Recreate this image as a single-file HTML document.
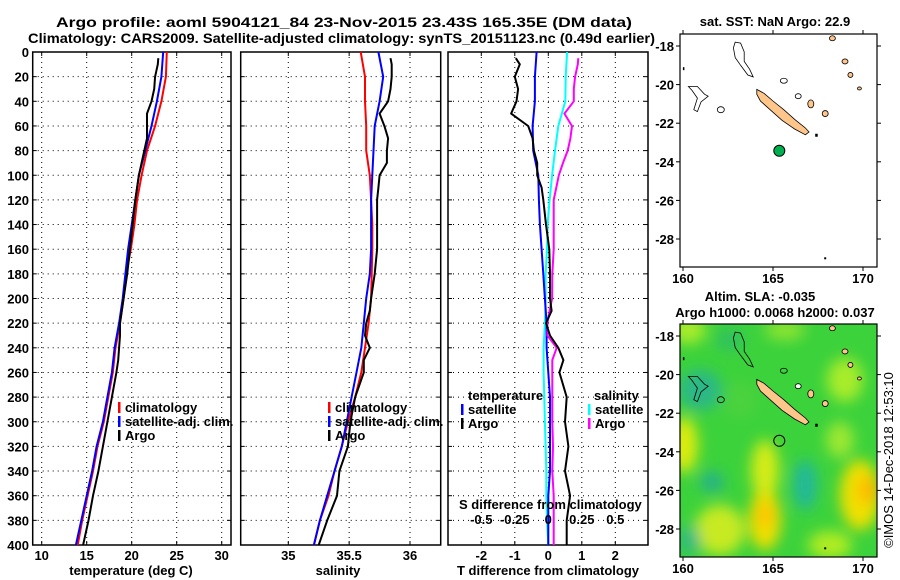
<!DOCTYPE html>
<html><head><meta charset="utf-8"><style>
html,body{margin:0;padding:0;background:#fff;}
svg{display:block;font-family:"Liberation Sans",sans-serif;font-weight:bold;}
</style></head><body>
<svg id="fig" width="900" height="580" viewBox="0 0 900 580">
<defs>
<filter id="blur" x="-50%" y="-50%" width="200%" height="200%"><feGaussianBlur stdDeviation="7"/></filter>
<clipPath id="mapclip"><rect x="680" y="324" width="197" height="233"/></clipPath>
</defs>
<g>
<text x="56" y="27" font-size="14" textLength="576" lengthAdjust="spacingAndGlyphs">Argo profile: aoml 5904121_84 23-Nov-2015 23.43S 165.35E (DM data)</text>
<text x="28" y="43" font-size="14" textLength="627" lengthAdjust="spacingAndGlyphs">Climatology: CARS2009. Satellite-adjusted climatology: synTS_20151123.nc (0.49d earlier)</text>
</g>
<g id="panels"></g>
<g id="maps"></g>
</svg>
<script>
// ---- profile data ----
const depthGrid = [0,20,40,60,80,100,120,140,160,180,200,220,240,260,280,300,320,340,360,380,400];
const depthArgo = [5,10,20,30,40,50,60,70,80,90,100,110,120,140,160,180,200,210,220,230,240,250,260,280,300,320,340,360,380,400];
const tempClim = [23.9,23.8,23.3,22.6,21.7,21.1,20.6,20.3,19.9,19.4,19.1,18.7,18.2,17.9,17.4,16.9,16.2,15.7,15.1,14.5,14.0];
const tempSat = [23.5,23.3,22.8,22.2,21.5,20.8,20.4,20.0,19.6,19.3,19.0,18.6,18.1,17.8,17.3,16.8,16.1,15.6,15.0,14.4,13.8];
const tempArgo = [22.96,22.9,22.6,22.5,22.2,21.7,21.7,21.7,21.4,21.1,20.8,20.6,20.4,20.1,19.8,19.5,19.1,18.9,18.7,18.7,18.6,18.5,18.3,17.8,17.3,16.8,16.3,15.7,15.2,14.6];
const salClim = [35.595,35.63,35.63,35.64,35.64,35.67,35.68,35.69,35.69,35.685,35.68,35.66,35.63,35.60,35.55,35.49,35.44,35.38,35.33,35.26,35.21];
const salSat = [35.74,35.78,35.75,35.71,35.70,35.69,35.68,35.68,35.68,35.67,35.64,35.62,35.60,35.56,35.52,35.48,35.44,35.38,35.32,35.26,35.21];
const salArgo = [35.84,35.85,35.85,35.84,35.82,35.75,35.79,35.82,35.81,35.81,35.75,35.74,35.73,35.73,35.73,35.71,35.68,35.67,35.64,35.63,35.67,35.62,35.62,35.55,35.51,35.49,35.42,35.40,35.32,35.25];
const tDiffSat = [-0.35,-0.4,-0.4,-0.47,-0.45,-0.3,-0.28,-0.25,-0.2,-0.15,-0.1,-0.05,-0.05,0,0.05,0.05,0.05,0.05,0,0,0];
const tDiffArgo = [-0.97,-0.85,-1.0,-0.9,-0.95,-1.11,-0.6,-0.47,-0.43,-0.33,-0.33,-0.2,-0.15,-0.07,0.03,0.05,0.05,0.1,-0.07,0.05,0.3,0.45,0.33,0.55,0.5,0.6,0.5,0.65,0.55,0.55];
const sDiffSat = [0.14,0.13,0.127,0.075,0.05,0.028,0.01,-0.005,-0.01,-0.02,-0.02,-0.025,-0.035,-0.035,-0.03,-0.025,-0.02,-0.015,-0.015,-0.01,0];
const sDiffArgo = [0.224,0.22,0.2,0.19,0.19,0.12,0.177,0.165,0.145,0.11,0.078,0.06,0.04,0.04,0.04,0.03,0.028,0.01,-0.007,-0.007,0.063,0.03,0.03,0.03,0.03,0.035,0.03,0.04,0.04,0.04];
const depthTicks = [0,20,40,60,80,100,120,140,160,180,200,220,240,260,280,300,320,340,360,380,400];
const tempTicks = [10,15,20,25,30];
const salTicks = [35,35.5,36];
const salTickLabels = ["35","35.5","36"];
const tDiffTicks = [-2,-1,0,1,2];
const sDiffTicks = [-0.5,-0.25,0,0.25,0.5];
const sDiffTickLabels = ["-0.5","-0.25","0","0.25","0.5"];
const lonTicks = [160,165,170];
const latTicks = [-18,-20,-22,-24,-26,-28];
const argoLon = 165.35, argoLat = -23.43;

const NS = "http://www.w3.org/2000/svg";
const TOP = 52, BOT = 545;
function yD(d){ return TOP + (BOT-TOP)*d/400; }
function xT(t){ return 41.7 + 9*(t-10); }
function xS(s){ return 288.3 + 121.7*(s-35); }
function xTd(t){ return 548.3 + 33.5*t; }
function xSd(s){ return 548.3 + 134*s; }
function mk(tag, attrs, parent){ const e=document.createElementNS(NS,tag); for(const k in attrs) e.setAttribute(k,attrs[k]); parent.appendChild(e); return e; }
function txt(s, attrs, parent){ const e=mk('text',attrs,parent); e.textContent=s; return e; }
const panels = document.getElementById('panels');

function panel(name, x0, x1, gridXs){
  const g = mk('g',{},panels);
  
  
  gridXs.forEach(x=>{ const l=mk('line',{x1:x,x2:x,y1:TOP,y2:BOT,stroke:'#000','stroke-width':1,'stroke-dasharray':'1,4'},g);
    
    
    mk('line',{x1:x,x2:x,y1:TOP,y2:TOP+4,stroke:'#000'},g); mk('line',{x1:x,x2:x,y1:BOT-4,y2:BOT,stroke:'#000'},g); });
  depthTicks.forEach(d=>{ if(d===0||d===400) return; const l=mk('line',{x1:x0,x2:x1,y1:yD(d),y2:yD(d),stroke:'#000','stroke-width':1,'stroke-dasharray':'1,4'},g);
    
    
    mk('line',{x1:x0,x2:x0+4,y1:yD(d),y2:yD(d),stroke:'#000'},g); mk('line',{x1:x1-4,x2:x1,y1:yD(d),y2:yD(d),stroke:'#000'},g); });
  const r = mk('rect',{x:x0,y:TOP,width:x1-x0,height:BOT-TOP,fill:'none',stroke:'#000','stroke-width':1.5},g);
  
  
  return g;
}
function series(g, name, xs, ds, fx, color){
  const pts = xs.map((v,i)=>fx(v).toFixed(1)+','+yD(ds[i]).toFixed(1)).join(' ');
  const p = mk('polyline',{points:pts,fill:'none',stroke:color,'stroke-width':2,'stroke-linejoin':'round'},g);
  
  
}
function legend(g, name, x, y, color, label){
  const lg = mk('g',{},g);
  
  
  mk('rect',{x:x,y:y-10,width:2.5,height:11,fill:color},lg);
  txt(label,{x:x+7,y:y,'font-size':13},lg);
}

// Panel 1: temperature
const p1 = panel('temperature-panel', 32.7, 231, tempTicks.map(xT));
series(p1,'temperature-climatology-line',tempClim,depthGrid,xT,'#ff0000');
series(p1,'temperature-satellite-line',tempSat,depthGrid,xT,'#0000ff');
series(p1,'temperature-argo-line',tempArgo,depthArgo,xT,'#000000');
depthTicks.forEach(d=>{ const t=txt(String(d),{x:29,y:yD(d)+5,'font-size':13,'text-anchor':'end'},p1);
  
   });
tempTicks.forEach(v=>{ const t=txt(String(v),{x:xT(v),y:560,'font-size':13,'text-anchor':'middle'},p1);
  
   });
const xl1 = txt('temperature (deg C)',{x:131,y:575,'font-size':13,'text-anchor':'middle'},p1);


legend(p1,'legend-climatology',118,412,'#ff0000','climatology');
legend(p1,'legend-satellite-adj',118,426,'#0000ff','satellite-adj. clim.');
legend(p1,'legend-argo',118,440,'#000000','Argo');

// Panel 2: salinity
const p2 = panel('salinity-panel', 240.7, 440.7, salTicks.map(xS));
series(p2,'salinity-climatology-line',salClim,depthGrid,xS,'#ff0000');
series(p2,'salinity-satellite-line',salSat,depthGrid,xS,'#0000ff');
series(p2,'salinity-argo-line',salArgo,depthArgo,xS,'#000000');
salTicks.forEach((v,i)=>{ const t=txt(salTickLabels[i],{x:xS(v),y:560,'font-size':13,'text-anchor':'middle'},p2);
  
   });
const xl2 = txt('salinity',{x:338,y:575,'font-size':13,'text-anchor':'middle'},p2);


legend(p2,'legend-climatology',328,412,'#ff0000','climatology');
legend(p2,'legend-satellite-adj',328,426,'#0000ff','satellite-adj. clim.');
legend(p2,'legend-argo',328,440,'#000000','Argo');

// Panel 3: differences
const p3 = panel('difference-panel', 448, 648, tDiffTicks.map(xTd));
series(p3,'s-diff-satellite-line',sDiffSat,depthGrid,xSd,'#00ffff');
series(p3,'t-diff-satellite-line',tDiffSat,depthGrid,xTd,'#0000ff');
series(p3,'s-diff-argo-line',sDiffArgo,depthArgo,xSd,'#ff00ff');
series(p3,'t-diff-argo-line',tDiffArgo,depthArgo,xTd,'#000000');
tDiffTicks.forEach(v=>{ const t=txt(String(v),{x:xTd(v),y:560,'font-size':13,'text-anchor':'middle'},p3);
  
   });
sDiffTicks.forEach((v,i)=>{ const t=txt(sDiffTickLabels[i],{x:xSd(v),y:524,'font-size':13,'text-anchor':'middle'},p3);
  
   });
const st = txt('S difference from climatology',{x:459,y:509,'font-size':13},p3);


const tt = txt('T difference from climatology',{x:548,y:575,'font-size':13,'text-anchor':'middle'},p3);


const lt = txt('temperature',{x:468,y:400,'font-size':13},p3);


legend(p3,'legend-t-satellite',461,414,'#0000ff','satellite');
legend(p3,'legend-t-argo',461,428,'#000000','Argo');
const ls = txt('salinity',{x:594,y:400,'font-size':13},p3);


legend(p3,'legend-s-satellite',588,414,'#00ffff','satellite');
legend(p3,'legend-s-argo',588,428,'#ff00ff','Argo');

// ---- maps ----
const maps = document.getElementById('maps');
function mapAxes(name, y0, y1, yLat, labelY){
  const g = mk('g',{},maps);
  
  
  return g;
}
function lonX(l){ return 683 + (l-160)*18; }
function latYtop(la){ return 46 + (-18-la)*19.3; }
function latYbot(la){ return 336 + (-18-la)*19.3; }

function coast(g, ly, withOrange){
  const P = (arr)=>arr.map(p=>lonX(p[0]).toFixed(1)+','+ly(p[1]).toFixed(1)).join(' ');
  const c = mk('g',{},g);
  
  
  // New Caledonia main island
  mk('polygon',{points:P([[164.1,-20.25],[164.5,-20.45],[165.0,-20.85],[165.6,-21.3],[166.2,-21.8],[166.8,-22.25],[167.0,-22.45],[166.8,-22.6],[166.2,-22.3],[165.5,-21.85],[164.9,-21.35],[164.3,-20.85],[164.1,-20.5]]),fill:'#ffc68c',stroke:'#000','stroke-width':0.8},c);
  // reef outline north
  mk('polygon',{points:P([[162.9,-17.8],[163.2,-17.85],[163.4,-18.3],[163.4,-18.8],[163.7,-19.2],[163.9,-19.6],[163.6,-19.5],[163.2,-19.0],[162.9,-18.6],[162.8,-18.1]]),fill:'none',stroke:'#000','stroke-width':0.8},c);
  // Chesterfield-ish outlines
  mk('polygon',{points:P([[160.3,-20.1],[160.8,-20.1],[161.2,-20.5],[161.4,-20.6],[161.0,-20.9],[160.8,-21.4],[160.6,-21.3],[160.8,-20.7],[160.5,-20.3]]),fill:'none',stroke:'#000','stroke-width':0.8},c);
  mk('ellipse',{cx:lonX(162.1),cy:ly(-21.3),rx:3.5,ry:3,fill:'none',stroke:'#000','stroke-width':0.8},c);
  mk('ellipse',{cx:lonX(165.6),cy:ly(-19.8),rx:3.5,ry:2.5,fill:'none',stroke:'#000','stroke-width':0.8},c);
  mk('ellipse',{cx:lonX(166.4),cy:ly(-20.6),rx:3,ry:2.5,fill:withOrange?'none':'#fff',stroke:'#000','stroke-width':0.8},c);
  // Loyalty islands
  [[167.1,-21.0,3,4],[167.9,-21.5,3,3],[168.3,-17.6,3,2.5],[169.0,-18.8,3,2.5],[169.3,-19.5,2.5,2.5],[169.8,-20.2,2,1.5]].forEach(a=>{
    mk('ellipse',{cx:lonX(a[0]),cy:ly(a[1]),rx:a[2],ry:a[3],fill:'#ffc68c',stroke:'#000','stroke-width':0.8},c);
  });
  mk('rect',{x:lonX(167.4)-1,y:ly(-22.65)-2,width:2.5,height:3,fill:'#000'},c);
  mk('rect',{x:lonX(160.05)-1,y:ly(-19.2)-2,width:1.5,height:3,fill:'#000'},c);
  mk('rect',{x:lonX(167.9)-1,y:ly(-29.0)-1,width:2,height:2,fill:'#000'},c);
}
function frameAndTicks(g, top, bottom, ly, lonLabelY){
  const r = mk('rect',{x:680,y:top,width:197,height:bottom-top,fill:'none',stroke:'#000','stroke-width':1.2},g);
  
  
  lonTicks.forEach(l=>{ mk('line',{x1:lonX(l),x2:lonX(l),y1:top-4,y2:top,stroke:'#000'},g);
    mk('line',{x1:lonX(l),x2:lonX(l),y1:bottom,y2:bottom+4,stroke:'#000'},g);
    const t=txt(String(l),{x:lonX(l),y:lonLabelY,'font-size':13,'text-anchor':'middle'},g);
    
     });
  latTicks.forEach(la=>{ mk('line',{x1:676,x2:680,y1:ly(la),y2:ly(la),stroke:'#000'},g);
    mk('line',{x1:877,x2:881,y1:ly(la),y2:ly(la),stroke:'#000'},g);
    const t=txt(String(la),{x:674,y:ly(la)+5,'font-size':13,'text-anchor':'end'},g);
    
     });
}
// top map
const m1 = mapAxes('sst-map');
const m1t = txt('sat. SST: NaN Argo: 22.9',{x:775,y:26,'font-size':13,'text-anchor':'middle'},m1);


coast(m1, latYtop, true);
const dot = mk('circle',{cx:lonX(argoLon),cy:latYtop(argoLat),r:5.5,fill:'#00b050',stroke:'#000','stroke-width':1},m1);


frameAndTicks(m1, 34, 267, latYtop, 283);

// bottom map
const m2 = mapAxes('sla-map');
const m2t1 = txt('Altim. SLA: -0.035',{x:760,y:301,'font-size':13,'text-anchor':'middle'},m2);


const m2t2 = txt('Argo h1000: 0.0068 h2000: 0.037',{x:775,y:317,'font-size':13,'text-anchor':'middle'},m2);


const hm = mk('g',{'clip-path':'url(#mapclip)'},m2);


mk('rect',{x:680,y:324,width:197,height:233,fill:'#3cd23c'},hm);
const hb = mk('g',{filter:'url(#blur)'},hm);
[
 [688,330,18,14,'#a8ec2a'],[700,390,22,20,'#2ab886'],[684,445,14,28,'#dcec10'],[712,482,12,10,'#26b08c'],
 [765,470,14,30,'#d4ec18'],[765,520,16,30,'#f0e000'],[765,515,8,12,'#ffc000'],[720,530,25,25,'#c8ea20'],
 [805,485,12,25,'#22b89a'],[860,495,20,35,'#f0e000'],[868,490,10,14,'#ffb800'],[845,380,18,22,'#a8ec2a'],
 [830,545,22,14,'#b0ec22'],[785,330,20,10,'#8ee430'],[740,400,18,18,'#4cd23c'],[690,540,10,14,'#2ab886'],
 [840,440,14,18,'#9ce830'],[730,340,14,10,'#2ec064']
].forEach(b=>{ mk('ellipse',{cx:b[0],cy:b[1],rx:b[2],ry:b[3],fill:b[4]},hb); });
coast(m2, latYbot, false);
const ring = mk('circle',{cx:lonX(argoLon),cy:latYbot(argoLat),r:5.5,fill:'none',stroke:'#000','stroke-width':1},m2);


frameAndTicks(m2, 324, 557, latYbot, 573);
const cr = txt('©IMOS 14-Dec-2018 12:53:10',{x:0,y:0,'font-size':13,'font-weight':'normal','text-anchor':'middle',transform:'translate(893,460) rotate(-90)'},m2);


</script>
</body></html>
